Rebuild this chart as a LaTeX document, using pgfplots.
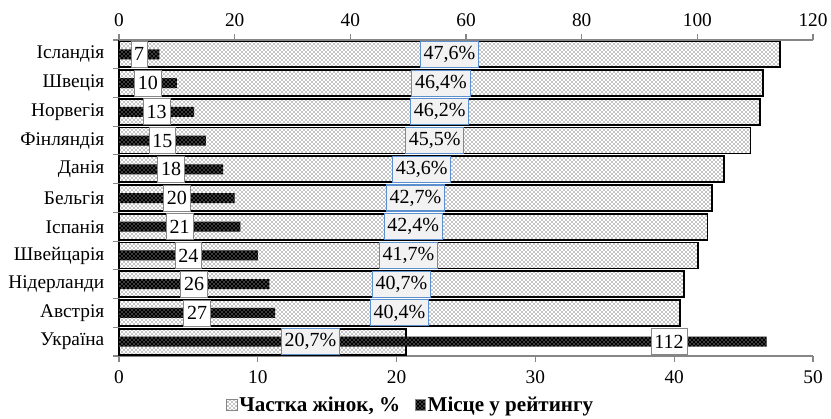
\documentclass[border=0pt]{standalone}
\usepackage{fontspec}
\setmainfont{Liberation Serif}
\usepackage{pgfplots}
\usepackage{pgfplotstable}
\pgfplotsset{compat=1.18}
\usetikzlibrary{patterns}
\definecolor{axgray}{RGB}{134,134,134}
\definecolor{lblblue}{RGB}{91,143,205}
\definecolor{lblfill}{RGB}{242,242,242}

\pgfplotstableread{
y w r
0 47.6 7
1 46.4 10
2 46.2 13
3 45.5 15
4 43.6 18
5 42.7 20
6 42.4 21
7 41.7 24
8 40.7 26
9 40.4 27
10 20.7 112
}\data

\pgfplotstableread{
y x lab
0 23.8 47,6\%
1 23.2 46,4\%
2 23.1 46,2\%
3 22.75 45,5\%
4 21.8 43,6\%
5 21.35 42,7\%
6 21.2 42,4\%
7 20.85 41,7\%
8 20.35 40,7\%
9 20.2 40,4\%
10 13.8 20,7\%
}\wlab

\pgfplotstableread{
y x lab
0 3.5 7
1 5 10
2 6.5 13
3 7.5 15
4 9 18
5 10 20
6 10.5 21
7 12 24
8 13 26
9 13.5 27
10 95.1 112
}\rlab

\begin{document}
\begin{tikzpicture}
\pgfplotsset{
  common/.style={
    at={(0,0)}, anchor=south west, scale only axis,
    width=520.5pt, height=237pt,
    ymin=-0.5, ymax=10.5, y dir=reverse,
    clip=false,
    tick align=outside, major tick length=4.5pt, minor tick length=4.5pt,
    axis line style={axgray, line width=0.8pt},
    tick style={axgray, line width=0.8pt},
    tick label style={font=\fontsize{14.5}{16}\selectfont},
    /pgf/number format/assume math mode=true,
  }
}
% women share (bottom axis)
\begin{axis}[common,
  xmin=0, xmax=50,
  axis x line*=bottom, axis y line*=left,
  xtick={0,10,...,50},
  ytick={0,...,10},
  yticklabels={Ісландія,Швеція,Норвегія,Фінляндія,Данія,Бельгія,Іспанія,Швейцарія,Нідерланди,Австрія,Україна},
  yticklabel style={xshift=-3pt},
  minor ytick={-0.5,0.5,...,10.5},
  major y tick style={draw=none},
  minor y tick style={axgray, line width=0.8pt},
  xticklabel style={yshift=-3pt},
]
\addplot[xbar, bar width=19.5pt, bar shift=0pt, draw=black, line width=1.3pt,
  preaction={fill=white}, pattern=crosshatch dots, pattern color=black]
  table[x=w, y=y]{\data};
\end{axis}
% ranking (top axis)
\begin{axis}[common,
  xmin=0, xmax=120,
  axis x line*=top, hide y axis,
  xtick={0,20,...,120},
  xticklabel style={yshift=2pt},
]
\addplot[xbar, bar width=7.5pt, bar shift=0pt, draw=none,
  fill=black, postaction={pattern=crosshatch dots, pattern color=white}]
  table[x=r, y=y]{\data};
\addplot[only marks, mark=none, nodes near coords, point meta=explicit symbolic,
  nodes near coords style={anchor=center, fill=white, draw=axgray, line width=0.6pt,
    minimum height=19.5pt, inner xsep=2.5pt, font=\fontsize{15}{16}\selectfont}]
  table[x=x, y=y, meta=lab]{\rlab};
\end{axis}
% women labels + legend
\begin{axis}[common,
  xmin=0, xmax=50, hide axis,
  legend columns=2,
  legend style={at={(0.421,-0.155)}, anchor=center, draw=none, fill=none,
    font=\bfseries\fontsize{15.8}{17}\selectfont,
    inner sep=0pt,
    /tikz/every odd column/.append style={column sep=-1pt},
    /tikz/every even column/.append style={column sep=9pt}},
  legend image code/.code={\draw[#1] (0pt,-4pt) rectangle (8pt,4pt);},
]
\addplot[forget plot, only marks, mark=none, nodes near coords, point meta=explicit symbolic,
  nodes near coords style={anchor=center, fill=lblfill, draw=lblblue, line width=0.8pt,
    minimum height=19.5pt, inner xsep=2.5pt, font=\fontsize{15}{16}\selectfont}]
  table[x=x, y=y, meta=lab]{\wlab};
\addlegendimage{preaction={fill=white}, pattern=crosshatch dots, pattern color=black, draw=axgray, line width=0.6pt}
\addlegendentry{Частка жінок, \%}
\addlegendimage{fill=black, postaction={pattern=crosshatch dots, pattern color=white}, draw=axgray, line width=0.6pt}
\addlegendentry{Місце у рейтингу}
\end{axis}
\pgfresetboundingbox
\useasboundingbox (-89.25pt,-46.5pt) rectangle (534pt,267pt);
\end{tikzpicture}
\end{document}
